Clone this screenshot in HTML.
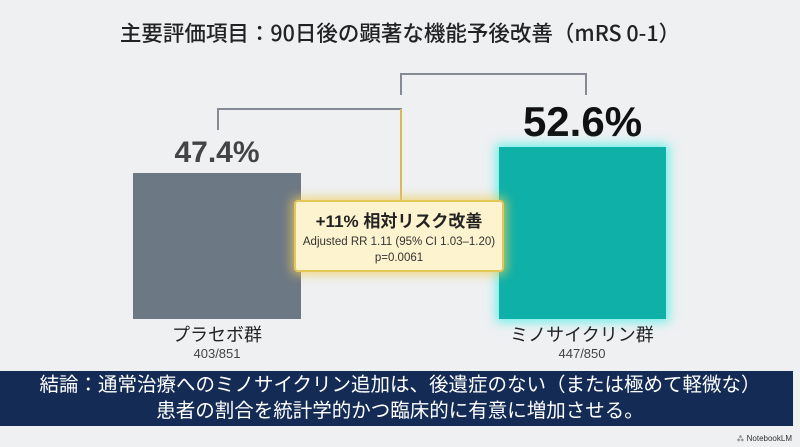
<!DOCTYPE html>
<html><head><meta charset="utf-8"><style>
body{margin:0;width:800px;height:447px;overflow:hidden;background:#eef0f2;font-family:"Liberation Sans","Noto Sans CJK JP",sans-serif;position:relative}
.a{position:absolute}
.t{white-space:nowrap;text-align:center}
</style></head><body>
<div class="a t" style="left:0;width:800px;top:17px;font-size:21.5px;color:#222;font-weight:500;font-family:'Noto Sans CJK JP',sans-serif">主要評価項目：90日後の顕著な機能予後改善（mRS 0-1）</div>
<div class="a" style="left:217px;top:108px;width:183px;height:20px;border-left:2px solid #858b94;border-top:2px solid #858b94"></div>
<div class="a" style="left:400px;top:73px;width:183px;height:20px;border-left:2px solid #858b94;border-top:2px solid #858b94;border-right:2px solid #858b94"></div>
<div class="a" style="left:400px;top:109px;width:2px;height:92px;background:#d8b85a"></div>
<div class="a t" style="left:133px;width:168px;top:136px;font-size:30px;font-weight:bold;color:#444">47.4%</div>
<div class="a" style="left:133px;top:173px;width:168px;height:146px;background:#6d7885"></div>
<div class="a t" style="left:499px;width:167px;top:98px;font-size:42px;font-weight:bold;color:#111">52.6%</div>
<div class="a" style="left:499px;top:147px;width:167px;height:172px;background:#0fb0a8;box-shadow:0 0 10px 3px #6ff0ea"></div>
<div class="a" style="left:294px;top:200px;width:210px;height:72px;background:#fdf3cf;border:2px solid #e6c659;border-radius:4px;box-shadow:0 0 10px 3px rgba(240,205,90,.7);box-sizing:border-box"></div>
<div class="a t" style="left:294px;width:210px;top:207px;font-size:17px;font-weight:bold;color:#222">+11% 相対リスク改善</div>
<div class="a t" style="left:294px;width:210px;top:234px;font-size:11.5px;color:#333;line-height:16px">Adjusted RR 1.11 (95% CI 1.03–1.20)<br>p=0.0061</div>
<div class="a t" style="left:117px;width:200px;top:321px;font-size:18px;color:#222">プラセボ群</div>
<div class="a t" style="left:117px;width:200px;top:346px;font-size:13px;color:#444">403/851</div>
<div class="a t" style="left:482px;width:200px;top:321px;font-size:18px;color:#222">ミノサイクリン群</div>
<div class="a t" style="left:482px;width:200px;top:346px;font-size:13px;color:#444">447/850</div>
<div class="a" style="left:0;top:371px;width:793px;height:55px;background:#142c55"></div>
<div class="a t" style="left:0;width:800px;top:372px;font-size:19.5px;line-height:26px;color:#fff">結論：通常治療へのミノサイクリン追加は、後遺症のない（または極めて軽微な）<br>患者の割合を統計学的かつ臨床的に有意に増加させる。</div>
<div class="a" style="right:8px;top:433px;font-size:8px;color:#333">⁂ NotebookLM</div>
</body></html>
